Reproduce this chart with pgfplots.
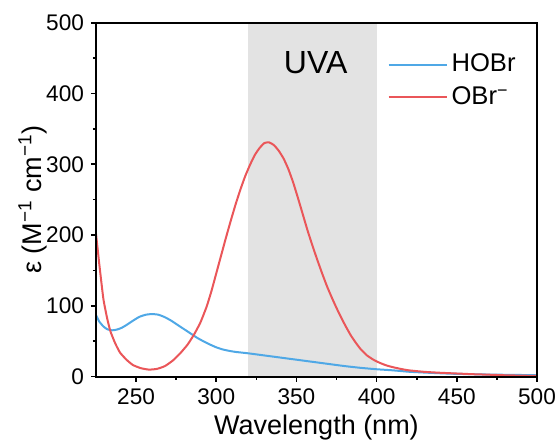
\documentclass[border=0pt]{standalone}
\usepackage{pgfplots}
\pgfplotsset{compat=1.18}
\usepackage{fontspec}
\setmainfont{Liberation Sans}

\definecolor{hobr}{HTML}{4FA8E6}
\definecolor{obr}{HTML}{EA5659}
\definecolor{uva}{HTML}{E3E3E3}

\begin{document}
\begin{tikzpicture}
\begin{axis}[
    scale only axis,
    width=220.5pt, height=177pt,
    xmin=225, xmax=500, ymin=0, ymax=500,
    xtick={250,300,...,500},
    ytick={0,100,...,500},
    minor x tick num=1, minor y tick num=1,
    axis on top,
    axis line style={line width=1pt},
    tick style={line width=0.8pt, black},
    major tick length=2.5pt, minor tick length=1.6pt,
    tick align=outside,
    xtick pos=bottom, ytick pos=left,
    /pgf/number format/assume math mode=true,
    ticklabel style={font=\fontsize{11.3}{13}\selectfont},
    label style={font=\fontsize{13.5}{15}\selectfont},
    xlabel={Wavelength (nm)},
    ylabel={ε (M\textsuperscript{−1} cm\textsuperscript{−1})},
    xlabel style={at={(axis description cs:0.5,-0.1638)}, anchor=base},
    ylabel style={at={(axis description cs:-0.143,0.5)}, anchor=center},
    legend style={draw=none, fill=none, at={(0.975,0.935)}, anchor=north east,
        font=\fontsize{12.8}{14}\selectfont, row sep=2pt},
    legend cell align=left,
    legend image code/.code={\draw[#1] (0pt,0pt) -- (29pt,0pt);},
]
\fill[uva] (axis cs:320,0) rectangle (axis cs:400,500);
\node[font=\fontsize{16}{18}\selectfont] at (axis cs:362,444) {UVA};

\addplot[hobr, line width=1pt, smooth, tension=0.3] coordinates {
(225,87) (227,78) (229.6,71) (232,67) (235,65.5) (238,66.5) (241,69) (244,73)
(248,79) (252,84.5) (256,87.5) (260,88.5) (264,87.5) (268,84) (272,79) (276,73)
(280,67) (284,61) (288,55) (292,50) (296,45.5) (300,41.5) (304,38.5) (308,36.5)
(312,35) (316,34) (320,33) (330,30) (340,27) (350,24) (360,21) (370,18) (380,15)
(390,12.5) (400,10.5) (410,9) (420,7) (430,5.8) (440,4.8) (450,4) (460,3.5)
(470,3) (480,2.7) (490,2.4) (500,2)
};
\addlegendentry{HOBr}

\addplot[obr, line width=1pt, smooth, tension=0.3] coordinates {
(225,202) (227,160) (229.6,110) (232,82) (234,64) (237,47) (240,34) (244,24)
(248,16.5) (253,12) (258,10) (263,11) (268,15) (273,23) (277.5,33) (282,45)
(286,59) (290,76) (294,99) (297,121) (300,146) (303,171) (306,196) (309,220)
(312,243) (315,264) (318,283) (321,299) (324,313) (327,323) (330,330) (333,331)
(336,327) (339,319) (342,308) (345,293) (348,274) (351,252) (354,229) (357,206)
(360,185) (363,165) (366,146) (369,128) (372,112) (375,97) (378,83) (381,70)
(384,58) (387,48) (390,39) (394,30) (398,24) (402,19.5) (406,16) (410,13.5)
(415,11) (420,9) (430,6.8) (440,5.5) (450,4.5) (460,3.5) (470,2.8) (480,2)
(490,1.5) (500,1)
};
\addlegendentry{OBr\textsuperscript{−}}
\end{axis}
\pgfresetboundingbox
\useasboundingbox ([shift={(-48pt,-33.2pt)}]current axis.south west)
    rectangle ([shift={(11pt,11.35pt)}]current axis.north east);
\end{tikzpicture}
\end{document}
